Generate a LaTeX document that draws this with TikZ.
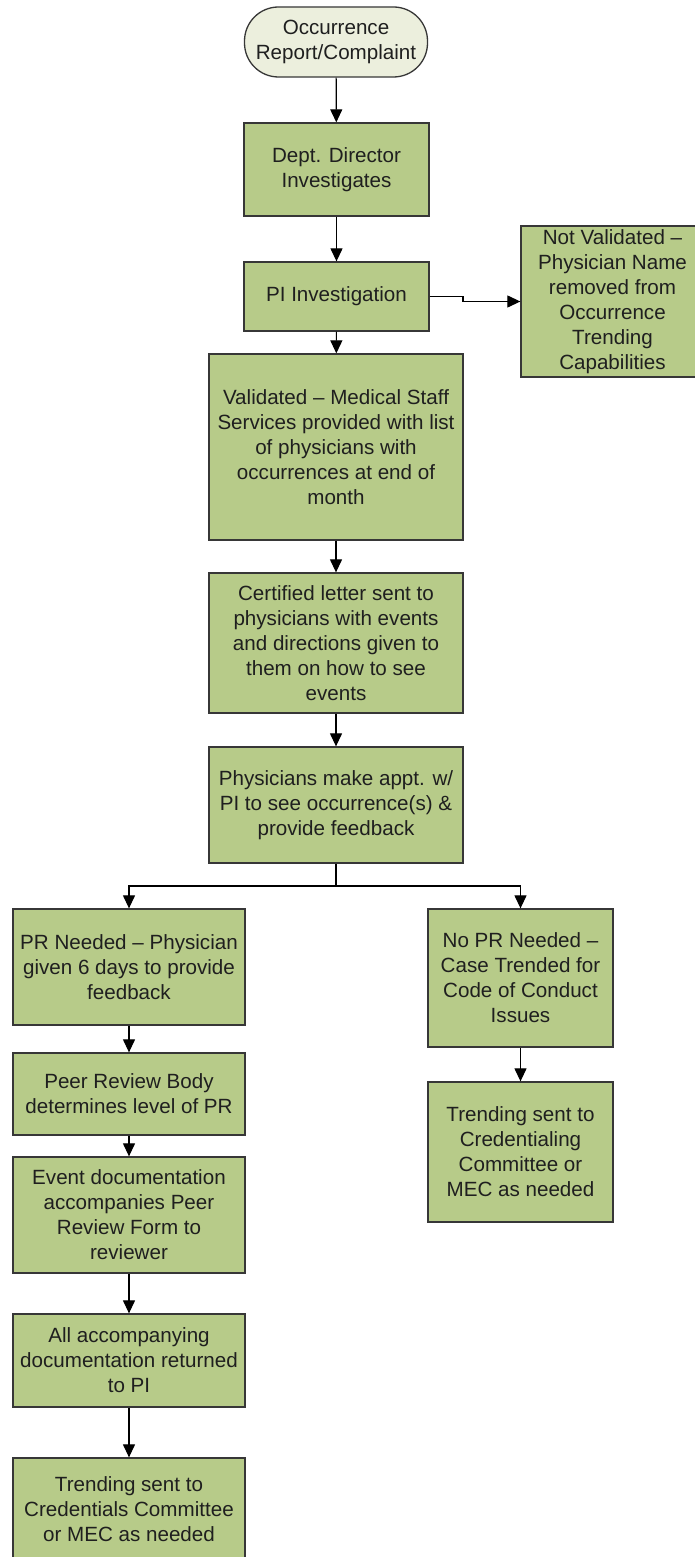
\documentclass[tikz,border=0pt]{standalone}
\usepackage{fontspec}
\setmainfont{Liberation Sans}
\usetikzlibrary{arrows.meta}
\definecolor{boxgreen}{RGB}{183,203,137}
\definecolor{termfill}{RGB}{236,239,221}
\definecolor{edgegray}{RGB}{55,55,55}
\tikzset{
  flowbox/.style={draw=edgegray, fill=boxgreen, line width=1.3pt, inner sep=0pt,
    align=center, font=\fontsize{20.6}{25}\selectfont, text=black!88},
  termbox/.style={flowbox, fill=termfill, rounded corners=34pt},
  flowarrow/.style={draw=black, line width=1.2pt, -{Triangle[length=13pt,width=12pt]}},
  flowline/.style={draw=black, line width=1.2pt}
}
\begin{document}
\begin{tikzpicture}[x=1pt, y=-1pt]
\useasboundingbox (0,0) rectangle (695,1557);
\clip (0,0) rectangle (695,1557);
\fill[white] (0,0) rectangle (695,1557);

\node[termbox, minimum width=183pt, minimum height=70pt] (start) at (336,42) {Occurrence\\Report/Complaint};
\node[flowbox, minimum width=185pt, minimum height=93pt] (dept) at (336.5,169.5) {Dept. Director\\Investigates};
\node[flowbox, minimum width=185pt, minimum height=69pt] (pi) at (336.5,296.5) {PI Investigation};
\node[flowbox, minimum width=183pt, minimum height=151pt] (notval) at (612.5,301.5) {Not Validated --\\Physician Name\\removed from\\Occurrence\\Trending\\Capabilities};
\node[flowbox, minimum width=254pt, minimum height=186pt] (valid) at (336,447) {Validated -- Medical Staff\\Services provided with list\\of physicians with\\occurrences at end of\\month};
\node[flowbox, minimum width=254pt, minimum height=140pt] (cert) at (336,643) {Certified letter sent to\\physicians with events\\and directions given to\\them on how to see\\events};
\node[flowbox, minimum width=254pt, minimum height=116pt] (phys) at (336,805) {Physicians make appt. w/\\PI to see occurrence(s) \&\\provide feedback};
\node[flowbox, minimum width=232pt, minimum height=116pt] (prneed) at (129,967) {PR Needed -- Physician\\given 6 days to provide\\feedback};
\node[flowbox, minimum width=185pt, minimum height=138pt] (noprneed) at (520.5,978) {No PR Needed --\\Case Trended for\\Code of Conduct\\Issues};
\node[flowbox, minimum width=232pt, minimum height=82pt] (peer) at (129,1094) {Peer Review Body\\determines level of PR};
\node[flowbox, minimum width=232pt, minimum height=116pt] (event) at (129,1215) {Event documentation\\accompanies Peer\\Review Form to\\reviewer};
\node[flowbox, minimum width=232pt, minimum height=93pt] (allacc) at (129,1360.5) {All accompanying\\documentation returned\\to PI};
\node[flowbox, minimum width=232pt, minimum height=102pt] (trendL) at (129,1509) {Trending sent to\\Credentials Committee\\or MEC as needed};
\node[flowbox, minimum width=185pt, minimum height=140pt] (trendR) at (520.5,1152) {Trending sent to\\Credentialing\\Committee or\\MEC as needed};

\coordinate (jogA) at (463,296.5);
\coordinate (jogB) at (463,301.5);
\coordinate (split) at (336,886);

\draw[flowarrow] (start) -- (dept);
\draw[flowarrow] (dept) -- (pi);
\draw[flowarrow] (pi.east) -- (jogA) -- (jogB) -- (notval.west);
\draw[flowarrow] (pi) -- (valid);
\draw[flowarrow] (valid) -- (cert);
\draw[flowarrow] (cert) -- (phys);
\draw[flowline] (phys.south) -- (split);
\draw[flowarrow] (split) -| (prneed.north);
\draw[flowarrow] (split) -| (noprneed.north);
\draw[flowarrow] (prneed) -- (peer);
\draw[flowarrow] (peer) -- (event);
\draw[flowarrow] (event) -- (allacc);
\draw[flowarrow] (allacc) -- (trendL);
\draw[flowarrow] (noprneed) -- (trendR);
\end{tikzpicture}
\end{document}
